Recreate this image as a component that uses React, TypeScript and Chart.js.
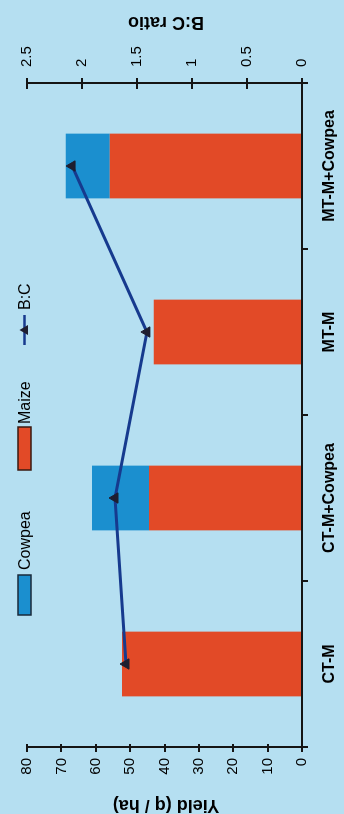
import { useEffect, useRef } from "react";
import { Chart, registerables } from "chart.js";

Chart.register(...registerables);

// ---- data ----
const categories = ["CT-M", "CT-M+Cowpea", "MT-M", "MT-M+Cowpea"];
const maizeYield = [52.4, 44.5, 43.1, 55.9];
const cowpeaYield = [0, 16.6, 0, 12.8];
const bcRatio = [1.6, 1.7, 1.41, 2.09];
const yieldAxisMax = 80;
const yieldAxisStep = 10;
const ratioAxisMax = 2.5;
const ratioAxisStep = 0.5;
const yieldTitle = "Yield (q / ha)";
const ratioTitle = "B:C ratio";
const legendLabels = ["Cowpea", "Maize", "B:C"];

// ---- style ----
const FONT = '"Liberation Sans", Arial, sans-serif';
const BG = "#b5dff1";
const MAIZE = "#e24a27";
const COWPEA = "#1b8fcf";
const LINE = "#163a8e";
const MARKER = "#1e1e30";
const AXIS = "#151515";

const W = 814;
const H = 344;

const overlayPlugin = {
  id: "overlay",
  afterDraw(chart: any) {
    const ctx = chart.ctx as CanvasRenderingContext2D;
    const area = chart.chartArea;
    const midY = (area.top + area.bottom) / 2 + 1.5;
    ctx.save();
    // inner halves of the value-axis tick marks
    ctx.strokeStyle = AXIS;
    ctx.lineWidth = 2;
    const ys = chart.scales.y;
    ys.ticks.forEach((t: any) => {
      const p = Math.round(ys.getPixelForValue(t.value));
      ctx.beginPath();
      ctx.moveTo(area.left, p);
      ctx.lineTo(area.left + 3, p);
      ctx.stroke();
    });
    const y1 = chart.scales.y1;
    y1.ticks.forEach((t: any) => {
      const p = Math.round(y1.getPixelForValue(t.value));
      ctx.beginPath();
      ctx.moveTo(area.right - 6, p);
      ctx.lineTo(area.right, p);
      ctx.stroke();
    });

    // axis titles (rotated like the original)
    ctx.fillStyle = "#000";
    ctx.font = `bold 18px ${FONT}`;
    ctx.textAlign = "center";
    ctx.textBaseline = "alphabetic";
    ctx.save();
    ctx.translate(14, midY);
    ctx.rotate(-Math.PI / 2);
    ctx.fillText(yieldTitle, 0, 0);
    ctx.restore();
    ctx.save();
    ctx.translate(chart.width - 17, midY);
    ctx.rotate(-Math.PI / 2);
    ctx.fillText(ratioTitle, 0, 0);
    ctx.restore();

    // legend
    const ly = 18;
    const lh = 13;
    const cy = ly + lh / 2;
    ctx.font = `16px ${FONT}`;
    ctx.textAlign = "left";
    ctx.textBaseline = "middle";
    // Cowpea
    let x = 199;
    ctx.fillStyle = COWPEA;
    ctx.fillRect(x, ly, 40, lh);
    ctx.strokeStyle = "#1a2a3a";
    ctx.lineWidth = 1.5;
    ctx.strokeRect(x, ly, 40, lh);
    ctx.fillStyle = "#000";
    ctx.fillText(legendLabels[0], x + 45, cy + 1);
    // Maize
    x = 344;
    ctx.fillStyle = MAIZE;
    ctx.fillRect(x, ly, 43, lh);
    ctx.strokeStyle = "#3a1a10";
    ctx.strokeRect(x, ly, 43, lh);
    ctx.fillStyle = "#000";
    ctx.fillText(legendLabels[1], x + 46, cy + 1);
    // B:C
    x = 469;
    ctx.strokeStyle = LINE;
    ctx.lineWidth = 2.5;
    ctx.beginPath();
    ctx.moveTo(x, cy);
    ctx.lineTo(x + 30, cy);
    ctx.stroke();
    ctx.fillStyle = MARKER;
    ctx.beginPath();
    ctx.moveTo(x + 15, cy - 5);
    ctx.lineTo(x + 20, cy + 3.5);
    ctx.lineTo(x + 10, cy + 3.5);
    ctx.closePath();
    ctx.fill();
    ctx.fillStyle = "#000";
    ctx.fillText(legendLabels[2], x + 35, cy + 1);
    ctx.restore();
  },
};

export default function App() {
  const ref = useRef<HTMLCanvasElement | null>(null);

  useEffect(() => {
    if (!ref.current) return;
    const chart = new Chart(ref.current, {
      type: "bar",
      data: {
        labels: categories,
        datasets: [
          {
            type: "line",
            label: legendLabels[2],
            data: bcRatio,
            yAxisID: "y1",
            borderColor: LINE,
            borderWidth: 3,
            pointStyle: "triangle",
            pointRadius: 6,
            pointBackgroundColor: MARKER,
            pointBorderColor: MARKER,
            pointBorderWidth: 1,
            order: 0,
          } as any,
          {
            type: "bar",
            label: legendLabels[1],
            data: maizeYield,
            yAxisID: "y",
            backgroundColor: MAIZE,
            borderWidth: 0,
            barPercentage: 0.39,
            categoryPercentage: 1,
            order: 1,
          },
          {
            type: "bar",
            label: legendLabels[0],
            data: cowpeaYield,
            yAxisID: "y",
            backgroundColor: COWPEA,
            borderWidth: 0,
            barPercentage: 0.39,
            categoryPercentage: 1,
            order: 1,
          },
        ],
      },
      options: {
        responsive: false,
        animation: false,
        devicePixelRatio: 1,
        layout: { padding: { top: 27, left: 0, right: 0, bottom: 0 } },
        plugins: {
          legend: { display: false },
          tooltip: { enabled: false },
        },
        scales: {
          x: {
            type: "category",
            stacked: true,
            offset: true,
            grid: {
              display: true,
              offset: true,
              drawOnChartArea: false,
              drawTicks: true,
              tickLength: 6,
              color: AXIS,
              lineWidth: 2,
            },
            border: { display: true, color: AXIS, width: 2 },
            ticks: {
              color: "#000",
              padding: 12,
              maxRotation: 0,
              autoSkip: false,
              font: { family: FONT, size: 16, weight: "bold" },
            },
            afterFit: (s: any) => {
              s.height = 42;
            },
          },
          y: {
            position: "left",
            stacked: true,
            min: 0,
            max: yieldAxisMax,
            grid: {
              drawOnChartArea: false,
              drawTicks: true,
              tickLength: 5,
              color: AXIS,
              lineWidth: 2,
            },
            border: { display: true, color: AXIS, width: 2 },
            ticks: {
              stepSize: yieldAxisStep,
              color: "#000",
              padding: 6,
              font: { family: FONT, size: 15 },
            },
            afterFit: (s: any) => {
              s.width = 67;
            },
          },
          y1: {
            position: "right",
            stacked: false,
            min: 0,
            max: ratioAxisMax,
            grid: {
              drawOnChartArea: false,
              drawTicks: true,
              tickLength: 5,
              color: AXIS,
              lineWidth: 2,
            },
            border: { display: true, color: AXIS, width: 2 },
            ticks: {
              stepSize: ratioAxisStep,
              color: "#000",
              padding: 11,
              font: { family: FONT, size: 15 },
              callback: (v: any) => `${Number(v)}`,
            },
            afterFit: (s: any) => {
              s.width = 83;
            },
          },
        },
      },
      plugins: [overlayPlugin],
    });
    return () => chart.destroy();
  }, []);

  return (
    <div
      style={{
        position: "fixed",
        left: 0,
        top: 0,
        width: H,
        height: W,
        background: BG,
        overflow: "hidden",
      }}
    >
      <div
        style={{
          position: "absolute",
          left: 0,
          top: 0,
          width: W,
          height: H,
          transformOrigin: "0 0",
          transform: `translateY(${W}px) rotate(-90deg)`,
        }}
      >
        <canvas
          ref={ref}
          width={W}
          height={H}
          style={{ display: "block", width: W, height: H }}
        />
      </div>
    </div>
  );
}
